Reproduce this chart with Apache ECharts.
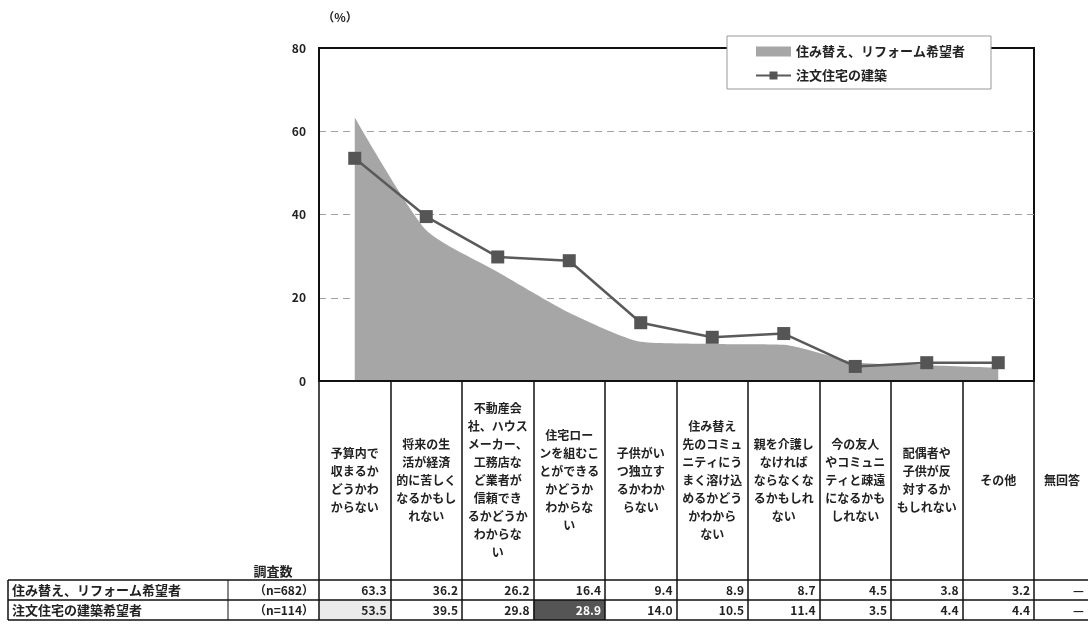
<!DOCTYPE html>
<html lang="ja">
<head>
<meta charset="UTF-8" />
<script src="https://cdn.jsdelivr.net/npm/echarts@6/dist/echarts.min.js"></script>
<style>
  html, body { margin: 0; padding: 0; background: #fff; }
  #main { width: 1088px; height: 626px; }
</style>
</head>
<body>
<div id="main"></div>
<script>
// 項目（表の見出しと同じ改行位置）
var categories = [
  '予算内で\n収まるか\nどうかわ\nからない',
  '将来の生\n活が経済\n的に苦しく\nなるかもし\nれない',
  '不動産会\n社、ハウス\nメーカー、\n工務店な\nど業者が\n信頼でき\nるかどうか\nわからな\nい',
  '住宅ロー\nンを組むこ\nとができる\nかどうか\nわからな\nい',
  '子供がい\nつ独立す\nるかわか\nらない',
  '住み替え\n先のコミュ\nニティにう\nまく溶け込\nめるかどう\nかわから\nない',
  '親を介護し\nなければ\nならなくな\nるかもしれ\nない',
  '今の友人\nやコミュニ\nティと疎遠\nになるかも\nしれない',
  '配偶者や\n子供が反\n対するか\nもしれない',
  'その他'
];
var noAnswerLabel = '無回答';
var seriesNames = ['住み替え、リフォーム希望者', '注文住宅の建築'];
var reformData = [63.3, 36.2, 26.2, 16.4, 9.4, 8.9, 8.7, 4.5, 3.8, 3.2];
var customData = [53.5, 39.5, 29.8, 28.9, 14.0, 10.5, 11.4, 3.5, 4.4, 4.4];
var noAnswer = ['—', '—'];
var rowLabels = ['住み替え、リフォーム希望者', '注文住宅の建築希望者'];
var rowCounts = ['（n=682）', '（n=114）'];
var yTicks = [0, 20, 40, 60, 80];

// レイアウト
var plotLeft = 319, plotRight = 1034, plotTop = 48, plotBottom = 381;
var colW = (plotRight - plotLeft) / 10;
var rowTop = 580, rowH = 20;
var tableLeft = 8, countLeft = 228;
var headMid = 480;
var font = '"Noto Sans CJK JP", "Noto Sans", sans-serif';

var chart = echarts.init(document.getElementById('main'));

var g = [];
// 強調セル
g.push({ type: 'rect', z: 0, shape: { x: plotLeft, y: rowTop + rowH, width: colW, height: rowH }, style: { fill: '#ebebeb' } });
g.push({ type: 'rect', z: 0, shape: { x: plotLeft + colW * 3, y: rowTop + rowH, width: colW, height: rowH }, style: { fill: '#555' } });
// 表の罫線
[rowTop, rowTop + rowH, rowTop + rowH * 2].forEach(function (y) {
  g.push({ type: 'line', z: 5, shape: { x1: tableLeft, y1: y, x2: 1088, y2: y }, style: { stroke: '#111', lineWidth: 1.5 } });
});
[tableLeft, countLeft].forEach(function (x) {
  g.push({ type: 'line', z: 5, shape: { x1: x, y1: rowTop, x2: x, y2: rowTop + rowH * 2 }, style: { stroke: '#111', lineWidth: x === tableLeft ? 1.5 : 1 } });
});
g.push({ type: 'text', z: 6, x: 1062, y: headMid, style: { text: noAnswerLabel, font: 'bold 12px ' + font, fill: '#222', align: 'center', verticalAlign: 'middle' } });
g.push({ type: 'text', z: 6, x: 273, y: rowTop - 9, style: { text: '調査数', font: 'bold 13px ' + font, fill: '#222', align: 'center', verticalAlign: 'middle' } });
g.push({ type: 'text', z: 6, x: 340, y: 17, style: { text: '（%）', font: 'bold 12px ' + font, fill: '#222', align: 'center', verticalAlign: 'middle' } });

[reformData, customData].forEach(function (vals, r) {
  var cy = rowTop + rowH * r + rowH / 2;
  g.push({ type: 'text', z: 6, x: tableLeft + 4, y: cy, style: { text: rowLabels[r], font: 'bold 13px ' + font, fill: '#222', verticalAlign: 'middle' } });
  g.push({ type: 'text', z: 6, x: plotLeft - 5, y: cy, style: { text: rowCounts[r], font: 'bold 12px ' + font, fill: '#222', align: 'right', verticalAlign: 'middle' } });
  vals.forEach(function (v, c) {
    var dark = (r === 1 && c === 3);
    g.push({ type: 'text', z: 6, x: plotLeft + colW * (c + 1) - 4, y: cy, style: { text: v.toFixed(1), font: 'bold 12px ' + font, fill: dark ? '#fff' : '#222', align: 'right', verticalAlign: 'middle' } });
  });
  g.push({ type: 'text', z: 6, x: 1084, y: cy, style: { text: noAnswer[r], font: 'bold 12px ' + font, fill: '#222', align: 'right', verticalAlign: 'middle' } });
});

var option = {
  animation: false,
  backgroundColor: '#fff',
  textStyle: { fontFamily: font },
  legend: {
    left: 727, top: 36,
    orient: 'vertical',
    backgroundColor: '#fff',
    borderColor: '#999',
    borderWidth: 1,
    padding: [9, 26, 7, 28],
    itemWidth: 35, itemHeight: 10, itemGap: 11,
    textStyle: { fontWeight: 'bold', fontSize: 13, color: '#222' },
    data: [{ name: seriesNames[0], icon: 'rect' }, { name: seriesNames[1] }],
    z: 10
  },
  grid: [
    { left: plotLeft, right: 1088 - plotRight, top: plotTop, bottom: 626 - plotBottom,
      show: true, borderColor: '#111', borderWidth: 2, backgroundColor: 'transparent' },
    { left: plotLeft, right: 1088 - plotRight, top: plotBottom, height: rowTop + rowH * 2 - plotBottom }
  ],
  xAxis: [
    { type: 'category', gridIndex: 0, data: categories, z: 5,
      axisLine: { lineStyle: { color: '#111', width: 2 } },
      axisTick: { show: false }, axisLabel: { show: false } },
    { type: 'category', gridIndex: 1, data: categories, position: 'top',
      axisLine: { show: false }, axisTick: { show: false },
      axisLabel: { inside: true, interval: 0, margin: headMid - plotBottom, verticalAlign: 'middle', lineHeight: 18,
        fontSize: 12, fontWeight: 'bold', color: '#222', fontFamily: font },
      splitLine: { show: true, interval: 0, lineStyle: { color: '#111', width: 1.5 } } }
  ],
  yAxis: [
    { type: 'value', gridIndex: 0, min: 0, max: 80, interval: 20,
      axisLine: { show: true, lineStyle: { color: '#111', width: 2 } },
      axisTick: { show: false },
      axisLabel: { margin: 13, fontSize: 12, fontWeight: 'bold', color: '#222',
        formatter: function (v) { return yTicks.indexOf(v) >= 0 ? String(v) : ''; } },
      splitLine: { lineStyle: { type: [7, 5], width: 1, color: ['#111', '#a0a0a0', '#a0a0a0', '#a0a0a0', '#111'] } } },
    { type: 'value', gridIndex: 1, min: 0, max: 1, show: false }
  ],
  series: [
    { name: seriesNames[0], type: 'line', xAxisIndex: 0, yAxisIndex: 0,
      data: reformData, smooth: 0.2, showSymbol: false, symbol: 'none',
      lineStyle: { width: 0 }, itemStyle: { color: '#a6a6a6' },
      areaStyle: { color: '#a6a6a6', opacity: 1 }, z: 1 },
    { name: seriesNames[1], type: 'line', xAxisIndex: 0, yAxisIndex: 0,
      data: customData, symbol: 'rect', symbolSize: 13,
      lineStyle: { color: '#5a5a5a', width: 2.5 },
      itemStyle: { color: '#555' }, z: 3 }
  ],
  graphic: g
};
chart.setOption(option);
</script>
</body>
</html>
